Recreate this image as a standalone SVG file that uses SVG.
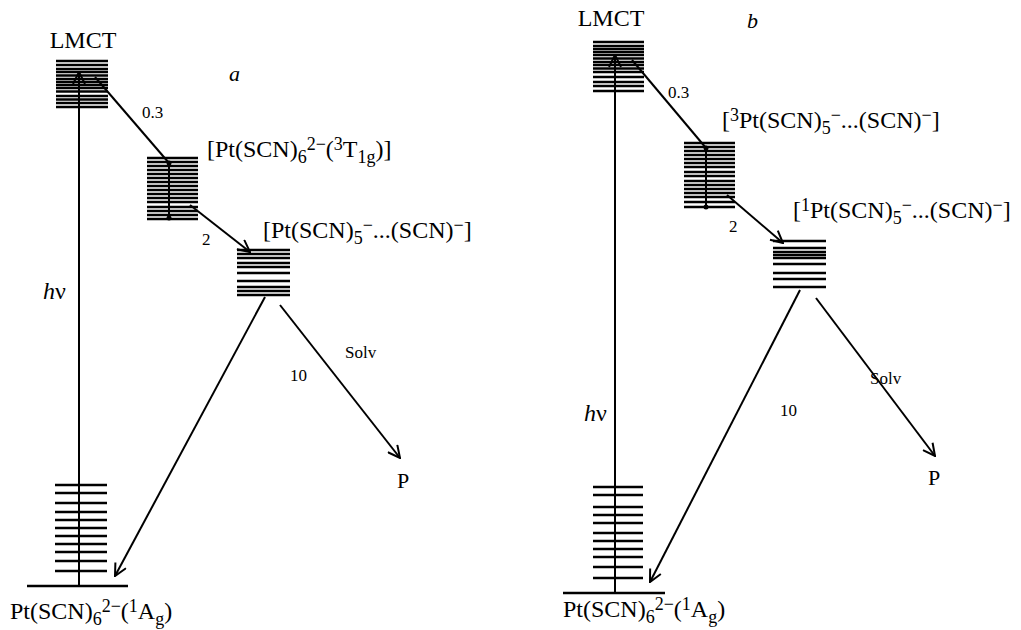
<svg xmlns="http://www.w3.org/2000/svg" width="1021" height="630" viewBox="0 0 1021 630">
<style>
text{font-family:"Liberation Serif","Times New Roman",serif;fill:#000}
.big{font-size:24px}
.big tspan.s{font-size:18px}
.sm{font-size:17px}
.it{font-style:italic}
.lv line{stroke:#000;stroke-width:2.5}
.cn line{stroke:#000;stroke-width:2;fill:none}
.ar{marker-end:url(#ah)}
</style>
<defs>
<marker id="ah" viewBox="0 0 14 14" refX="13" refY="7" markerWidth="14" markerHeight="14" markerUnits="userSpaceOnUse" orient="auto">
<path d="M1,1 L13,7 L1,13" fill="none" stroke="#000" stroke-width="2"/>
</marker>
</defs>
<rect width="1021" height="630" fill="#fff"/>

<!-- Panel a -->
<g id="a-lmct" class="lv">
<text class="big" x="83" y="48" text-anchor="middle">LMCT</text>
<line x1="56" y1="61" x2="108" y2="61"/><line x1="56" y1="65" x2="108" y2="65"/><line x1="56" y1="69" x2="108" y2="69"/><line x1="56" y1="72" x2="108" y2="72"/><line x1="56" y1="75.5" x2="108" y2="75.5"/><line x1="56" y1="79" x2="108" y2="79"/><line x1="56" y1="82" x2="108" y2="82"/><line x1="56" y1="85" x2="108" y2="85"/><line x1="56" y1="88" x2="108" y2="88"/><line x1="56" y1="91.5" x2="108" y2="91.5"/><line x1="56" y1="96" x2="108" y2="96"/><line x1="56" y1="99.5" x2="108" y2="99.5"/><line x1="56" y1="103" x2="108" y2="103"/><line x1="56" y1="107" x2="108" y2="107"/>
</g>
<g id="a-t1g" class="lv">
<line x1="147" y1="158" x2="198" y2="158"/><line x1="147" y1="162" x2="198" y2="162"/><line x1="147" y1="166" x2="198" y2="166"/><line x1="147" y1="170" x2="198" y2="170"/><line x1="147" y1="174" x2="198" y2="174"/><line x1="147" y1="178" x2="198" y2="178"/><line x1="147" y1="182" x2="198" y2="182"/><line x1="147" y1="186" x2="198" y2="186"/><line x1="147" y1="190" x2="198" y2="190"/><line x1="147" y1="194" x2="198" y2="194"/><line x1="147" y1="198" x2="198" y2="198"/><line x1="147" y1="202" x2="198" y2="202"/><line x1="147" y1="207" x2="198" y2="207"/><line x1="147" y1="211" x2="198" y2="211"/><line x1="147" y1="215" x2="198" y2="215"/><line x1="147" y1="219" x2="198" y2="219"/>
<text class="big" x="207" y="157">[Pt(SCN)<tspan class="s" dy="6">6</tspan><tspan class="s" dy="-13">2−</tspan><tspan dy="7">(</tspan><tspan class="s" dy="-7">3</tspan><tspan dy="7">T</tspan><tspan class="s" dy="6">1g</tspan><tspan dy="-6">)]</tspan></text>
</g>
<g id="a-pair" class="lv">
<line x1="237" y1="250" x2="290" y2="250"/><line x1="237" y1="254" x2="290" y2="254"/><line x1="237" y1="258" x2="290" y2="258"/><line x1="237" y1="263" x2="290" y2="263"/><line x1="237" y1="267" x2="290" y2="267"/><line x1="237" y1="273" x2="290" y2="273"/><line x1="237" y1="281" x2="290" y2="281"/><line x1="237" y1="287" x2="290" y2="287"/><line x1="237" y1="291" x2="290" y2="291"/><line x1="237" y1="295" x2="290" y2="295"/>
<text class="big" x="263" y="238">[Pt(SCN)<tspan class="s" dy="6">5</tspan><tspan class="s" dy="-13">−</tspan><tspan dy="7">...(SCN)</tspan><tspan class="s" dy="-7">−</tspan><tspan dy="7">]</tspan></text>
</g>
<g id="a-ground" class="lv">
<line x1="55" y1="485" x2="107" y2="485"/><line x1="55" y1="493" x2="107" y2="493"/><line x1="55" y1="503" x2="107" y2="503"/><line x1="55" y1="512" x2="107" y2="512"/><line x1="55" y1="520" x2="107" y2="520"/><line x1="55" y1="528" x2="107" y2="528"/><line x1="55" y1="536" x2="107" y2="536"/><line x1="55" y1="544" x2="107" y2="544"/><line x1="55" y1="552" x2="107" y2="552"/><line x1="55" y1="561" x2="107" y2="561"/><line x1="55" y1="571" x2="107" y2="571"/>
<line x1="27" y1="586" x2="128" y2="586"/>
<text class="big" x="10" y="619">Pt(SCN)<tspan class="s" dy="6">6</tspan><tspan class="s" dy="-13">2−</tspan><tspan dy="7">(</tspan><tspan class="s" dy="-7">1</tspan><tspan dy="7">A</tspan><tspan class="s" dy="6">g</tspan><tspan dy="-6">)</tspan></text>
</g>
<g id="a-p"><text x="397" y="488" font-size="22">P</text></g>
<text class="it" x="229" y="81" font-size="22">a</text>

<g id="a-connectors" class="cn">
<line class="ar" x1="79" y1="586" x2="79" y2="72"/>
<line x1="95" y1="77" x2="169" y2="163"/>
<line x1="169" y1="163" x2="169" y2="218"/>
<circle cx="169" cy="163" r="2.5"/><circle cx="169" cy="218" r="2.5"/>
<line class="ar" x1="190" y1="205" x2="250" y2="252"/>
<line class="ar" x1="265" y1="297" x2="115" y2="576"/>
<line class="ar" x1="280" y1="305" x2="400" y2="458"/>
<text class="big it" x="43" y="299">h<tspan font-style="normal">ν</tspan></text>
<text class="sm" x="142" y="118">0.3</text>
<text class="sm" x="202" y="245">2</text>
<text class="sm" x="290" y="381">10</text>
<text class="sm" x="345" y="358">Solv</text>
</g>

<!-- Panel b -->
<g id="b-lmct" class="lv">
<text class="big" x="611" y="26" text-anchor="middle">LMCT</text>
<line x1="593" y1="42" x2="644" y2="42"/><line x1="593" y1="46" x2="644" y2="46"/><line x1="593" y1="49" x2="644" y2="49"/><line x1="593" y1="52" x2="644" y2="52"/><line x1="593" y1="55" x2="644" y2="55"/><line x1="593" y1="58.5" x2="644" y2="58.5"/><line x1="593" y1="62" x2="644" y2="62"/><line x1="593" y1="65" x2="644" y2="65"/><line x1="593" y1="68.5" x2="644" y2="68.5"/><line x1="593" y1="72" x2="644" y2="72"/><line x1="593" y1="77" x2="644" y2="77"/><line x1="593" y1="82" x2="644" y2="82"/><line x1="593" y1="86" x2="644" y2="86"/><line x1="593" y1="91" x2="644" y2="91"/>
</g>
<g id="b-triplet" class="lv">
<line x1="684" y1="143" x2="735" y2="143"/><line x1="684" y1="147" x2="735" y2="147"/><line x1="684" y1="151" x2="735" y2="151"/><line x1="684" y1="155" x2="735" y2="155"/><line x1="684" y1="159" x2="735" y2="159"/><line x1="684" y1="163" x2="735" y2="163"/><line x1="684" y1="167" x2="735" y2="167"/><line x1="684" y1="172" x2="735" y2="172"/><line x1="684" y1="176" x2="735" y2="176"/><line x1="684" y1="181" x2="735" y2="181"/><line x1="684" y1="185" x2="735" y2="185"/><line x1="684" y1="189" x2="735" y2="189"/><line x1="684" y1="193" x2="735" y2="193"/><line x1="684" y1="197" x2="735" y2="197"/><line x1="684" y1="202" x2="735" y2="202"/><line x1="684" y1="207" x2="735" y2="207"/>
<text class="big" x="722" y="128">[<tspan class="s" dy="-7">3</tspan><tspan dy="7">Pt(SCN)</tspan><tspan class="s" dy="6">5</tspan><tspan class="s" dy="-13">−</tspan><tspan dy="7">...(SCN)</tspan><tspan class="s" dy="-7">−</tspan><tspan dy="7">]</tspan></text>
</g>
<g id="b-singlet" class="lv">
<line x1="773" y1="241" x2="826" y2="241"/><line x1="773" y1="248" x2="826" y2="248"/><line x1="773" y1="252" x2="826" y2="252"/><line x1="773" y1="255" x2="826" y2="255"/><line x1="773" y1="258" x2="826" y2="258"/><line x1="773" y1="264" x2="826" y2="264"/><line x1="773" y1="273" x2="826" y2="273"/><line x1="773" y1="279" x2="826" y2="279"/><line x1="773" y1="287" x2="826" y2="287"/>
<text class="big" x="793" y="218">[<tspan class="s" dy="-7">1</tspan><tspan dy="7">Pt(SCN)</tspan><tspan class="s" dy="6">5</tspan><tspan class="s" dy="-13">−</tspan><tspan dy="7">...(SCN)</tspan><tspan class="s" dy="-7">−</tspan><tspan dy="7">]</tspan></text>
</g>
<g id="b-ground" class="lv">
<line x1="593" y1="487" x2="643" y2="487"/><line x1="593" y1="495" x2="643" y2="495"/><line x1="593" y1="507" x2="643" y2="507"/><line x1="593" y1="515" x2="643" y2="515"/><line x1="593" y1="523" x2="643" y2="523"/><line x1="593" y1="533" x2="643" y2="533"/><line x1="593" y1="541" x2="643" y2="541"/><line x1="593" y1="549" x2="643" y2="549"/><line x1="593" y1="557" x2="643" y2="557"/><line x1="593" y1="567" x2="643" y2="567"/><line x1="593" y1="578" x2="643" y2="578"/>
<line x1="563" y1="593" x2="665" y2="593"/>
<text class="big" x="563" y="617">Pt(SCN)<tspan class="s" dy="6">6</tspan><tspan class="s" dy="-13">2−</tspan><tspan dy="7">(</tspan><tspan class="s" dy="-7">1</tspan><tspan dy="7">A</tspan><tspan class="s" dy="6">g</tspan><tspan dy="-6">)</tspan></text>
</g>
<g id="b-p"><text x="928" y="485" font-size="22">P</text></g>
<text class="it" x="747" y="28" font-size="22">b</text>

<g id="b-connectors" class="cn">
<line class="ar" x1="615" y1="593" x2="615" y2="55"/>
<line x1="632" y1="60" x2="706" y2="148"/>
<line x1="706" y1="148" x2="706" y2="207"/>
<circle cx="706" cy="148" r="2.5"/><circle cx="706" cy="207" r="2.5"/>
<line class="ar" x1="727" y1="195" x2="783" y2="243"/>
<line class="ar" x1="800" y1="290" x2="650" y2="582"/>
<line class="ar" x1="816" y1="298" x2="935" y2="456"/>
<text class="big it" x="584" y="421">h<tspan font-style="normal">ν</tspan></text>
<text class="sm" x="668" y="98">0.3</text>
<text class="sm" x="729" y="232">2</text>
<text class="sm" x="780" y="416">10</text>
<text class="sm" x="870" y="384">Solv</text>
</g>
</svg>
